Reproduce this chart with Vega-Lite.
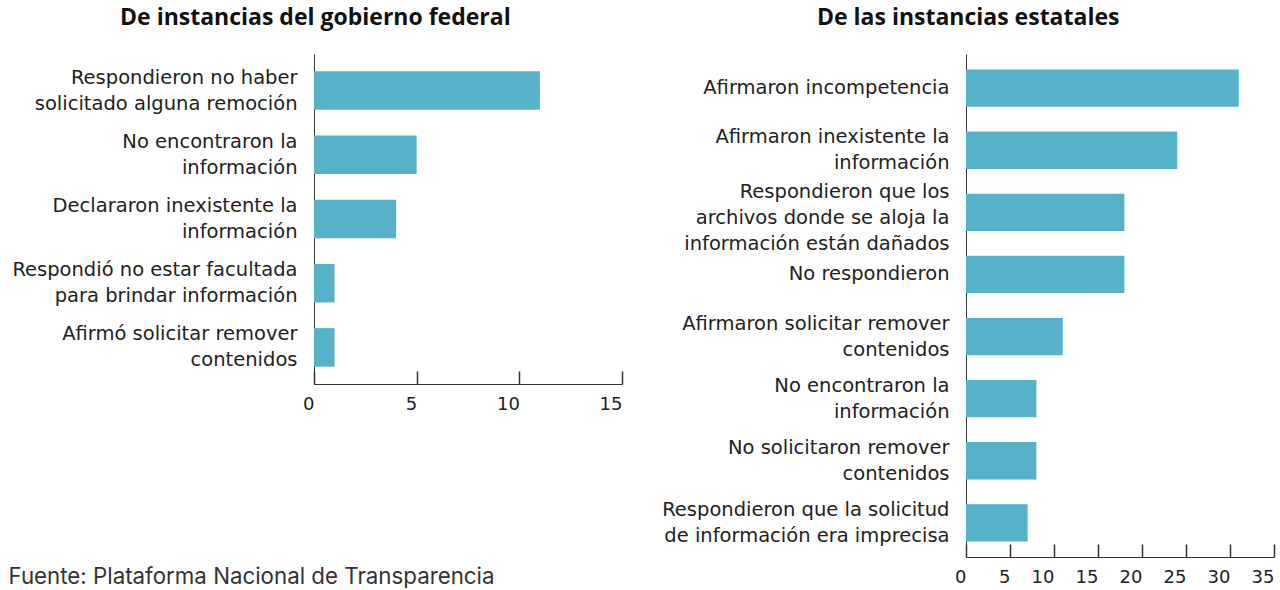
{
  "$schema": "https://vega.github.io/schema/vega-lite/v6.json",
  "background": "white",
  "padding": {"left": 8, "top": 7, "right": 5, "bottom": 0},
  "config": {
    "view": {"stroke": null},
    "font": "DejaVu Sans",
    "concat": {"spacing": 38},
    "title": {"font": "Open Sans", "fontSize": 23, "fontWeight": "bold", "color": "#111", "frame": "bounds", "anchor": "middle", "offset": 24},
    "axis": {
      "labelFont": "DejaVu Sans", "labelFontSize": 19.5, "labelColor": "#222",
      "domainColor": "#333", "tickColor": "#333", "grid": false
    },
    "bar": {"color": "#55b2c9"}
  },
  "hconcat": [
    {
      "title": "De instancias del gobierno federal",
      "width": 308,
      "height": 330,
      "data": {"values": [
        {"cat": "Respondieron no haber|solicitado alguna remoción", "n": 11},
        {"cat": "No encontraron la|información", "n": 5},
        {"cat": "Declararon inexistente la|información", "n": 4},
        {"cat": "Respondió no estar facultada|para brindar información", "n": 1},
        {"cat": "Afirmó solicitar remover|contenidos", "n": 1}
      ]},
      "mark": {"type": "bar"},
      "encoding": {
        "y": {"field": "cat", "type": "nominal", "sort": null,
          "scale": {"paddingInner": 0.4, "paddingOuter": 0.27},
          "axis": {"title": null, "ticks": false, "labelPadding": 17, "labelLimit": 500, "labelLineHeight": 26,
            "labelExpr": "split(datum.label, '|')",
            "labelOffset": {"condition": {"test": "length(split(datum.label, '|')) == 2", "value": -13}, "value": 0}}},
        "x": {"field": "n", "type": "quantitative",
          "scale": {"domain": [0, 15], "nice": false},
          "axis": {"values": [0, 5, 10, 15], "tickSize": -13, "tickWidth": 1.5, "labelAlign": "right", "labelFontSize": 18, "labelPadding": 24,
            "title": "Fuente: Plataforma Nacional de Transparencia",
            "titleX": -306, "titleY": 192, "titleAlign": "left", "titleBaseline": "middle", "titleAnchor": null,
            "titleFont": "Inter", "titleFontSize": 22.3, "titleFontWeight": "normal", "titleColor": "#333"}}
      }
    },
    {
      "title": "De las instancias estatales",
      "width": 308,
      "height": 503,
      "data": {"values": [
        {"cat": "Afirmaron incompetencia", "n": 31},
        {"cat": "Afirmaron inexistente la|información", "n": 24},
        {"cat": "Respondieron que los|archivos donde se aloja la|información están dañados", "n": 18},
        {"cat": "No respondieron", "n": 18},
        {"cat": "Afirmaron solicitar remover|contenidos", "n": 11},
        {"cat": "No encontraron la|información", "n": 8},
        {"cat": "No solicitaron remover|contenidos", "n": 8},
        {"cat": "Respondieron que la solicitud|de información era imprecisa", "n": 7}
      ]},
      "mark": {"type": "bar"},
      "encoding": {
        "y": {"field": "cat", "type": "nominal", "sort": null,
          "scale": {"paddingInner": 0.4, "paddingOuter": 0.25},
          "axis": {"title": null, "ticks": false, "labelPadding": 17, "labelLimit": 500, "labelLineHeight": 26,
            "labelExpr": "split(datum.label, '|')",
            "labelOffset": {"condition": [
              {"test": "length(split(datum.label, '|')) == 3", "value": -20},
              {"test": "length(split(datum.label, '|')) == 2", "value": -13}
            ], "value": 0}}},
        "x": {"field": "n", "type": "quantitative",
          "scale": {"domain": [0, 35], "nice": false},
          "axis": {"values": [0, 5, 10, 15, 20, 25, 30, 35], "tickSize": -13, "tickWidth": 1.5, "labelAlign": "right", "labelFontSize": 18, "labelPadding": 24, "title": null}}
      }
    }
  ]
}
